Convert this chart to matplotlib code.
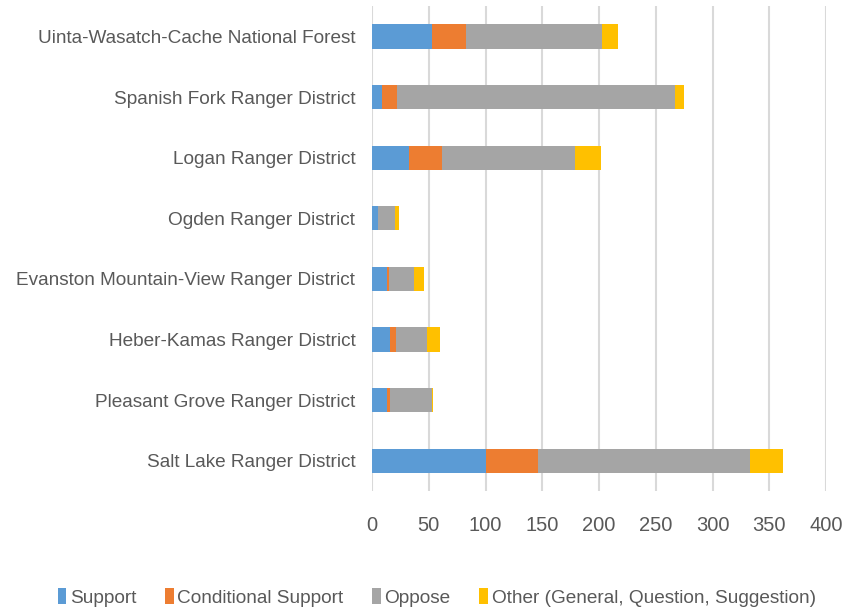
import matplotlib
matplotlib.use('Agg')
import matplotlib.pyplot as plt
import numpy as np

districts = ['Uinta-Wasatch-Cache National Forest', 'Spanish Fork Ranger District',
             'Logan Ranger District', 'Ogden Ranger District',
             'Evanston Mountain-View Ranger District', 'Heber-Kamas Ranger District',
             'Pleasant Grove Ranger District', 'Salt Lake Ranger District']
support = [53, 9, 33, 5, 13, 16, 13, 100]
conditional = [30, 13, 29, 0, 2, 5, 3, 46]
oppose = [120, 245, 117, 15, 22, 27, 37, 187]
other = [14, 8, 23, 4, 9, 12, 1, 29]

series = [('Support', support, '#5B9BD5'),
          ('Conditional Support', conditional, '#ED7D31'),
          ('Oppose', oppose, '#A5A5A5'),
          ('Other (General, Question, Suggestion)', other, '#FFC000')]

plt.rcParams['font.family'] = ['Liberation Sans', 'DejaVu Sans']

fig = plt.figure(figsize=(8.43, 6.13), dpi=100)
ax = fig.add_axes([0.4413, 0.199, 0.5387, 0.791])

y = np.arange(len(districts))
left = np.zeros(len(districts))
for name, vals, color in series:
    ax.barh(y, vals, left=left, height=0.4, color=color, label=name, zorder=3)
    left += np.array(vals)

ax.set_ylim(len(districts) - 0.5, -0.5)
ax.set_xlim(0, 400)
ax.set_xticks(np.arange(0, 401, 50))
ax.set_yticks(y)
ax.set_yticklabels(districts)
ax.grid(axis='x', color='#D9D9D9', linewidth=1.5, zorder=0)
for s in ax.spines.values():
    s.set_visible(False)
ax.tick_params(length=0, colors='#595959')
ax.tick_params(axis='y', labelsize=13.7, pad=12)
ax.tick_params(axis='x', labelsize=14.5, pad=18)

ax.legend(loc='center', bbox_to_anchor=(0.518, 0.025), bbox_transform=fig.transFigure,
          ncol=4, frameon=False, fontsize=13.7, handlelength=0.45, handleheight=0.9,
          handletextpad=0.2, columnspacing=1.5, labelcolor='#595959')

fig.savefig('out.png', dpi=100)
